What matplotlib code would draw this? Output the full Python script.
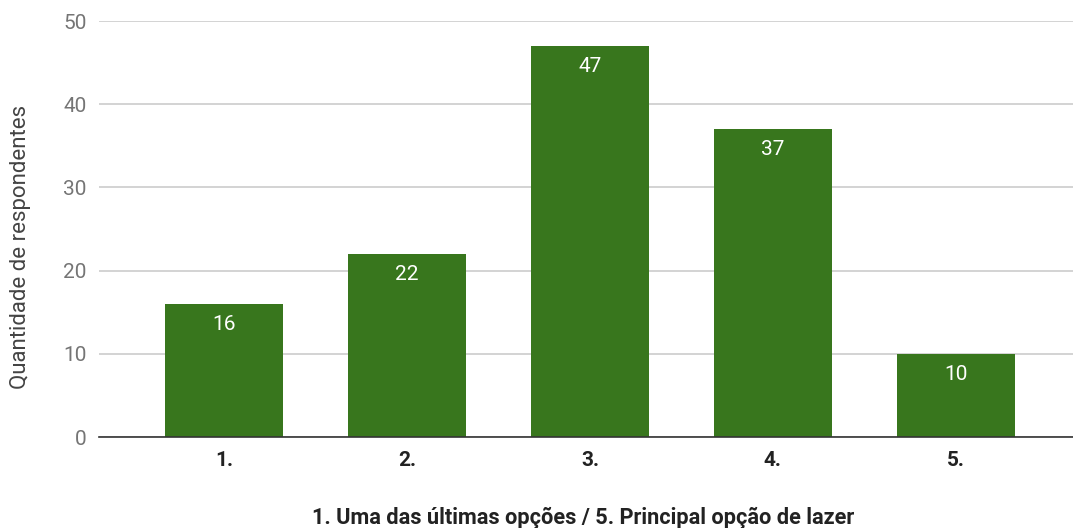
import matplotlib
matplotlib.use("Agg")
import matplotlib.pyplot as plt

categories = ["1.", "2.", "3.", "4.", "5."]
values = [16, 22, 47, 37, 10]
y_ticks = [0, 10, 20, 30, 40, 50]

plt.rcParams["font.family"] = ["Roboto", "DejaVu Sans"]

fig = plt.figure(figsize=(10.73, 5.28), dpi=100)
ax = fig.add_axes([0.0923, 0.1723, 0.9077, 0.7879])

x = list(range(len(categories)))
bars = ax.bar(x, values, width=0.645, color="#38761d", zorder=3)

for xi, v in zip(x, values):
    ax.annotate(str(v), (xi, v), xytext=(0, -8), textcoords="offset points",
                ha="center", va="top", color="white", fontsize=15, zorder=4)

ax.set_xlim(-0.683, 4.64)
ax.set_ylim(0, 50)
ax.set_yticks(y_ticks)
ax.set_xticks(x)
ax.set_xticklabels(categories, fontsize=15, fontweight="bold", color="#222222")
ax.tick_params(axis="y", labelsize=15, labelcolor="#757575", length=0, pad=9)
ax.tick_params(axis="x", length=0, pad=10)
ax.grid(axis="y", color="#cccccc", linewidth=1.2, zorder=0)

for s in ["top", "right", "left"]:
    ax.spines[s].set_visible(False)
ax.spines["bottom"].set_color("#333333")
ax.spines["bottom"].set_linewidth(1.2)
ax.spines["bottom"].set_zorder(5)

ax.set_ylabel("Quantidade de respondentes", fontsize=16, color="#444444")
ax.yaxis.set_label_coords(-0.070, 0.457)
ax.set_xlabel("1. Uma das últimas opções / 5. Principal opção de lazer",
              fontsize=15.7, fontweight="bold", color="#222222", va="baseline")
ax.xaxis.set_label_coords(0.4974, -0.209)

fig.savefig("out.png", dpi=100)
